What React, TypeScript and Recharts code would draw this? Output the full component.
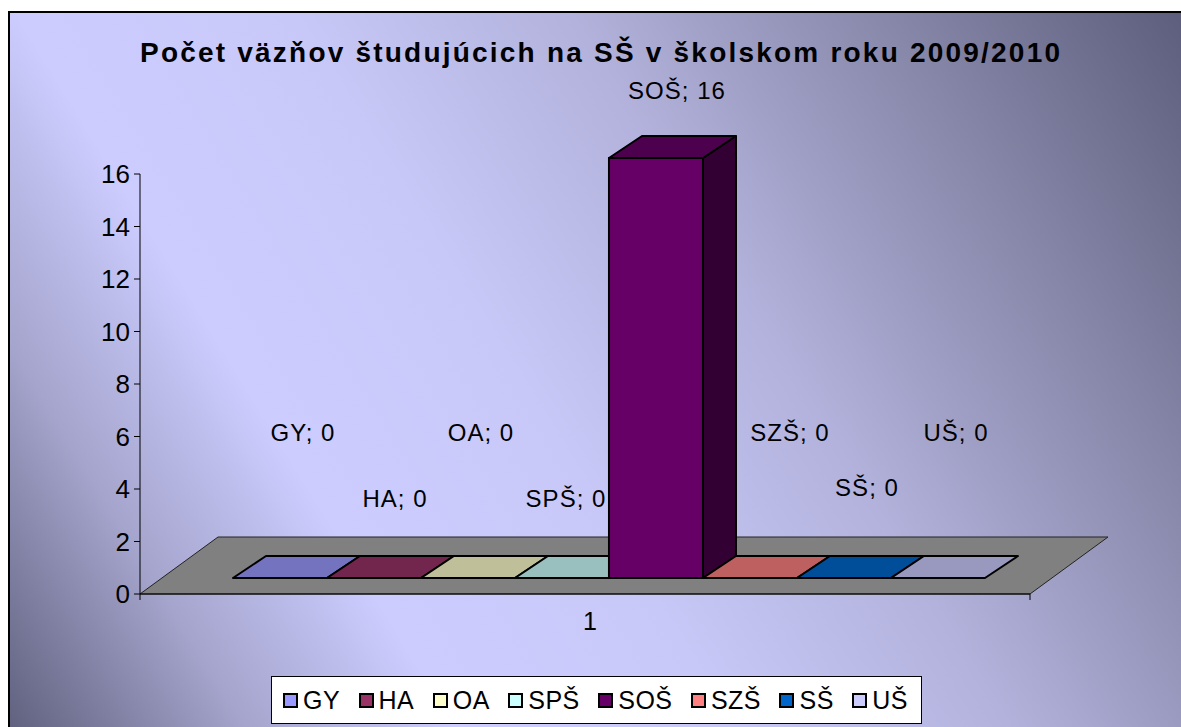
import React from 'react';
import { BarChart, Bar, XAxis, YAxis, ReferenceArea, Customized, LabelList } from 'recharts';

// ---- data ----
const categories = ['1'];
const seriesNames = ['GY', 'HA', 'OA', 'SPŠ', 'SOŠ', 'SZŠ', 'SŠ', 'UŠ'];
const seriesValues = [0, 0, 0, 0, 16, 0, 0, 0];
const yTicks = [0, 2, 4, 6, 8, 10, 12, 14, 16];
const titleText = 'Počet väzňov študujúcich na SŠ v školskom roku 2009/2010';

// ---- style ----
const seriesColors = ['#9999ff', '#993366', '#ffffcc', '#ccffff', '#660066', '#ff8080', '#0066cc', '#ccccff'];
// label placement (dx from bar centre, dy from bar top) mimicking Excel's auto layout
const labelDx = [23, 21, 13, 4, 21, 40, 23, 18];
const labelDy = [-162, -96, -162, -96, -84, -162, -107, -162];

const FONT = '"Liberation Sans", Arial, sans-serif';
const W = 1181;
const H = 727;
const SHIFT_X = 24; // bars sit at mid-depth of the floor
const SHIFT_Y = -16;
const DX = 33; // bar depth
const DY = -22;
const FLOOR_DX = 78;
const FLOOR_DY = -57;

const data = categories.map((c) => {
  const row: Record<string, any> = { name: c };
  seriesNames.forEach((n, i) => {
    row[n] = seriesValues[i];
  });
  return row;
});

function shade(hex: string, f: number) {
  const n = parseInt(hex.slice(1), 16);
  const r = Math.round(((n >> 16) & 255) * f);
  const g = Math.round(((n >> 8) & 255) * f);
  const b = Math.round((n & 255) * f);
  return `rgb(${r},${g},${b})`;
}

function makeShape(color: string) {
  return (props: any) => {
    const x = Number(props.x) + SHIFT_X;
    const y = Number(props.y) + SHIFT_Y;
    const w = Number(props.width);
    const h = Math.max(0, Number(props.height) || 0);
    const top = `M${x},${y} L${x + w},${y} L${x + w + DX},${y + DY} L${x + DX},${y + DY} Z`;
    const side = `M${x + w},${y} L${x + w + DX},${y + DY} L${x + w + DX},${y + h + DY} L${x + w},${y + h} Z`;
    return (
      <g>
        {h > 0 && (
          <>
            <path d={side} fill={shade(color, 0.5)} stroke="#000" strokeWidth={2} strokeLinejoin="round" />
            <rect x={x} y={y} width={w} height={h} fill={color} stroke="#000" strokeWidth={2} />
          </>
        )}
        <path d={top} fill={shade(color, 0.75)} stroke="#000" strokeWidth={2} strokeLinejoin="round" />
      </g>
    );
  };
}

const Floor = (props: any) => {
  const L = Number(props.x);
  const R = L + Number(props.width);
  const B = Number(props.y) + Number(props.height);
  const pts = `${L},${B} ${R},${B} ${R + FLOOR_DX},${B + FLOOR_DY} ${L + FLOOR_DX},${B + FLOOR_DY}`;
  return (
    <g>
      <polygon points={pts} fill="#808080" stroke="#222" strokeWidth={1} />
      <line x1={L} y1={B} x2={L} y2={B + 6} stroke="#000" strokeWidth={1} />
      <line x1={R} y1={B} x2={R} y2={B + 6} stroke="#000" strokeWidth={1} />
    </g>
  );
};

const makeLabel = (i: number) => (props: any) => {
  const vb = props.viewBox || props;
  const x = Number(vb.x) + Number(vb.width) / 2 + SHIFT_X + labelDx[i];
  const y = Number(vb.y) + labelDy[i];
  return (
    <text
      x={x}
      y={y}
      textAnchor="middle"
      dominantBaseline="central"
      fontFamily={FONT}
      fontSize={24}
      fill="#000"
      letterSpacing={1}
    >
      {`${seriesNames[i]}; ${props.value}`}
    </text>
  );
};

const Title = () => (
  <text
    x={600}
    y={52}
    textAnchor="middle"
    dominantBaseline="central"
    fontFamily={FONT}
    fontSize={28}
    fontWeight="bold"
    fill="#000"
    textLength={920}
    lengthAdjust="spacing"
  >
    {titleText}
  </text>
);

const LegendBox = () => (
  <div
    style={{
      position: 'absolute',
      left: 271,
      top: 676,
      width: 651,
      height: 48,
      boxSizing: 'border-box',
      background: '#fff',
      border: '1px solid #000',
      display: 'flex',
      alignItems: 'center',
      justifyContent: 'space-between',
      padding: '0 13px 0 11px',
      fontFamily: FONT,
      fontSize: 25,
      color: '#000',
    }}
  >
    {seriesNames.map((n, i) => (
      <span key={n} style={{ display: 'flex', alignItems: 'center' }}>
        <span
          style={{
            display: 'inline-block',
            width: 11,
            height: 11,
            border: '2px solid #000',
            background: seriesColors[i],
            marginRight: 5,
          }}
        />
        <span style={{ letterSpacing: 0.5 }}>{n}</span>
      </span>
    ))}
  </div>
);

export default function App() {
  return (
    <div style={{ position: 'absolute', left: 0, top: 0, width: W, height: H, overflow: 'hidden', background: '#fff' }}>
      <svg width={W} height={H} style={{ position: 'absolute', left: 0, top: 0 }}>
        <defs>
          <linearGradient id="bgGrad" gradientUnits="userSpaceOnUse" x1={W} y1={0} x2={0} y2={H}>
            <stop offset="0" stopColor="#5c5c7c" />
            <stop offset="0.18" stopColor="#8686a8" />
            <stop offset="0.38" stopColor="#b2b2dc" />
            <stop offset="0.55" stopColor="#c8c8f8" />
            <stop offset="0.72" stopColor="#ccccff" />
            <stop offset="0.85" stopColor="#a4a4cc" />
            <stop offset="1" stopColor="#5e5e7c" />
          </linearGradient>
        </defs>
        <rect x={9} y={12} width={W + 20} height={H + 20} fill="url(#bgGrad)" stroke="#000" strokeWidth={2} />
      </svg>
      <div style={{ position: 'absolute', left: 0, top: 0 }}>
        <BarChart
          width={W}
          height={H}
          data={data}
          margin={{ top: 174, right: 151, bottom: 93, left: 80 }}
          barGap={0}
          barCategoryGap="7.75%"
        >
          <Customized component={Title} />
          <ReferenceArea y1={0} y2={16} shape={Floor} />
          <XAxis
            dataKey="name"
            height={40}
            tickLine={false}
            axisLine={{ stroke: '#000', strokeWidth: 1 }}
            tick={{ fontFamily: FONT, fontSize: 25, fill: '#000', dx: 5 }}
            tickMargin={12}
          />
          <YAxis
            width={60}
            domain={[0, 16]}
            ticks={yTicks}
            interval={0}
            tickSize={6}
            tickMargin={4}
            tickLine={{ stroke: '#000' }}
            axisLine={{ stroke: '#000', strokeWidth: 1 }}
            tick={{ fontFamily: FONT, fontSize: 26, fill: '#000' }}
          />
          {seriesNames.map((n, i) => (
            <Bar key={n} dataKey={n} fill={seriesColors[i]} isAnimationActive={false} shape={makeShape(seriesColors[i])}>
              <LabelList dataKey={n} content={makeLabel(i)} />
            </Bar>
          ))}
        </BarChart>
      </div>
      <LegendBox />
    </div>
  );
}
